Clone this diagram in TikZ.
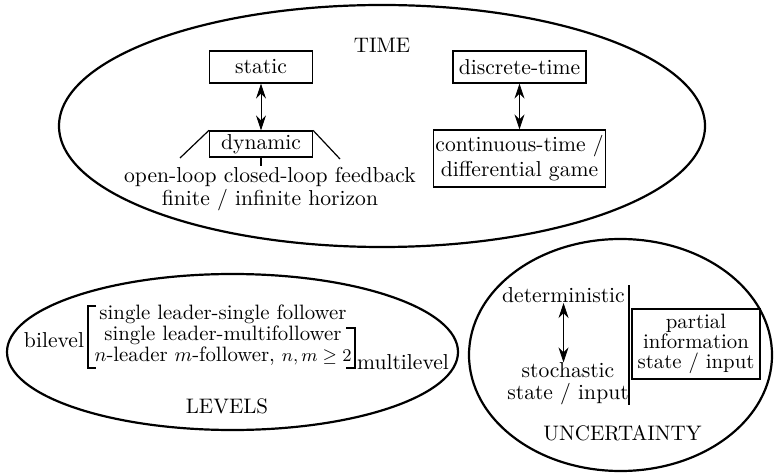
\documentclass[tikz,border=0pt]{standalone}
\usetikzlibrary{shapes.geometric,arrows.meta}
\begin{document}
\begin{tikzpicture}[x=0.5pt,y=-0.5pt,
  region/.style={draw,ellipse,line width=1.1pt,inner sep=0pt},
  box/.style={draw,line width=0.6pt,inner sep=1pt,align=center},
  txt/.style={inner sep=0pt,align=center},
  heading/.style={inner sep=0pt,font=\fontsize{10.5}{12}\selectfont},
  both/.style={draw,line width=0.4pt,{Stealth[length=7.5pt,width=5pt]}-{Stealth[length=7.5pt,width=5pt]}},
  font=\fontsize{10.8}{13}\selectfont]
  \useasboundingbox (0,0) rectangle (774,475);

  % time
  \node[region,minimum width=323pt,minimum height=121pt] at (382,126) (time) {};
  \node[heading] at (382,45) (timelabel) {TIME};
  \node[box,minimum width=51.5pt,minimum height=16pt] at (261,67) (static) {static};
  \node[box,minimum width=51.5pt,minimum height=13pt] at (261,144) (dynamic) {dynamic}
    edge[both] (static);
  \coordinate (dynleft) at (180,158);
  \coordinate (dynright) at (340,159);
  \coordinate (dyntick) at (261,166);
  \draw[line width=0.6pt] (dynamic.north west) -- (dynleft);
  \draw[line width=0.6pt] (dynamic.north east) -- (dynright);
  \draw[line width=0.6pt] (dynamic.south) -- (dyntick);
  \node[txt,font=\fontsize{10.8}{9}\selectfont] at (270,189) (strategies)
    {open-loop closed-loop feedback\\finite / infinite horizon};
  \node[box,minimum width=66.5pt,minimum height=16pt] at (519.5,67) (discrete) {discrete-time};
  \node[box,minimum width=85.5pt,minimum height=28.5pt,font=\fontsize{10.8}{12.5}\selectfont]
    at (519.5,158.5) (continuous) {continuous-time /\\differential game}
    edge[both] (discrete);

  % levels
  \node[region,minimum width=225.5pt,minimum height=78pt] at (232.5,352) (levels) {};
  \node[txt] at (54,340) (bilevel) {bilevel};
  \node[txt,font=\fontsize{10.4}{10.5}\selectfont] at (223,335) (hierarchy)
    {single leader-single follower\\single leader-multifollower\\
     $n$-leader $m$-follower, {\small$n,m\geq 2$}};
  \draw[line width=0.6pt] (96,306) -- (88,306) -- (88,368) -- (96,368);
  \draw[line width=0.6pt] (346,328) -- (355,328) -- (355,368) -- (346,368);
  \node[txt] at (403,362) (multilevel) {multilevel};
  \node[heading] at (227,406) (levelslabel) {LEVELS};

  % uncertainty
  \node[region,minimum width=151.5pt,minimum height=116pt] at (620.5,355) (uncertainty) {};
  \node[txt] at (563.5,295) (deterministic) {deterministic};
  \node[txt,font=\fontsize{10.8}{11}\selectfont] at (568,384) (stochastic)
    {stochastic\\state / input};
  \draw[both] (deterministic.south) -- (deterministic.south |- stochastic.north);
  \draw[line width=0.6pt] (629,285) -- (629,405);
  \node[box,minimum width=64pt,minimum height=35pt,font=\fontsize{10.4}{10}\selectfont]
    at (696,344) (partial) {partial\\information\\state / input};
  \node[heading] at (622.5,433) (uncertaintylabel) {UNCERTAINTY};

\end{tikzpicture}
\end{document}
